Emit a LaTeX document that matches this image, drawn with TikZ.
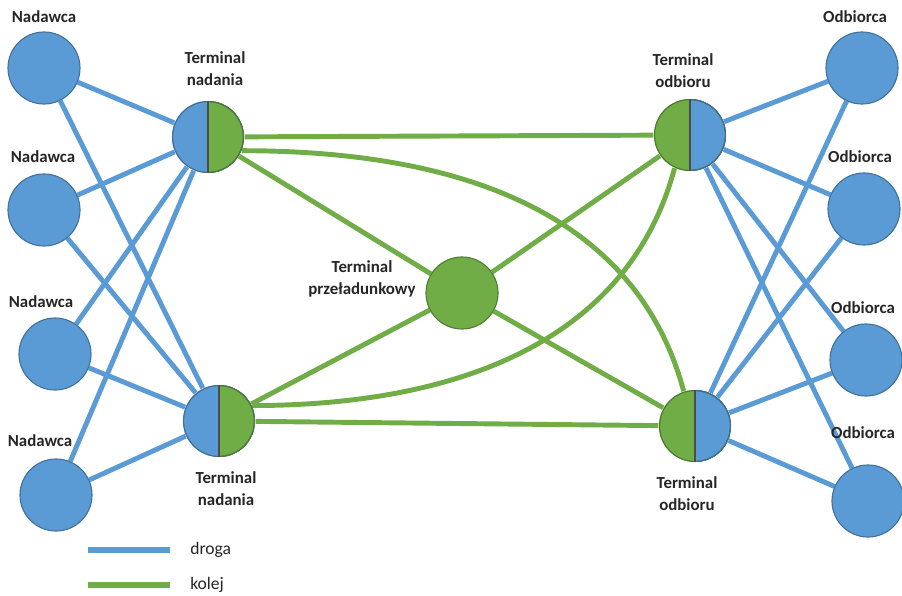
\documentclass[tikz,border=0pt]{standalone}
\usepackage{fontspec}
\setmainfont{Carlito}
\usepackage{tikz}
\usetikzlibrary{positioning,backgrounds}
\definecolor{road}{RGB}{91,155,213}
\definecolor{roaddark}{RGB}{65,113,156}
\definecolor{rail}{RGB}{112,173,71}
\definecolor{raildark}{RGB}{80,126,50}

\tikzset{
  hub/.style={circle, minimum size=1.8cm, inner sep=0pt, line width=0.8pt},
  sender/.style={hub, fill=road, draw=roaddark},
  transfer/.style={hub, fill=rail, draw=raildark},
  halfhub/.style 2 args={hub, fill=#1, path picture={
      \fill[#2] (path picture bounding box.south) rectangle (path picture bounding box.north east);
      \draw[#1!70!black, line width=1.6pt] (path picture bounding box.center) circle (0.9cm);
      \begin{scope}
        \clip (path picture bounding box.south) rectangle (path picture bounding box.north east);
        \draw[#2!70!black, line width=1.6pt] (path picture bounding box.center) circle (0.9cm);
      \end{scope}
      \draw[black!70, line width=0.8pt] (path picture bounding box.south) -- (path picture bounding box.north);}},
  lbl/.style={font=\bfseries\fontsize{12}{15.5}\selectfont, align=center, inner sep=0pt, text=black!85},
  leg/.style={font=\fontsize{12.5}{15}\selectfont, inner sep=0pt, text=black!85},
  droga/.style={road, line width=3.5pt},
  kolej/.style={rail, line width=3.5pt}
}

\begin{document}
\begin{tikzpicture}[x=0.025cm, y=0.025cm]
  \useasboundingbox (0,0) rectangle (902,595);

  % Senders
  \node[sender] (N1) at (44,527) {};
  \node[sender] (N2) at (44,385) {};
  \node[sender] (N3) at (55,241) {};
  \node[sender] (N4) at (56,100) {};
  \node[lbl] (N1t) at (44,578) {Nadawca};
  \node[lbl] (N2t) at (43,438) {Nadawca};
  \node[lbl] (N3t) at (41,293) {Nadawca};
  \node[lbl] (N4t) at (40,154) {Nadawca};

  % Terminals
  \node[halfhub={road}{rail}] (TN1) at (208,458) {};
  \node[halfhub={road}{rail}] (TN2) at (219,174) {};
  \node[transfer] (TP) at (462,302) {};
  \node[halfhub={rail}{road}] (TO1) at (690,460) {};
  \node[halfhub={rail}{road}] (TO2) at (695,169) {};
  \node[lbl] (TN1t) at (215,526) {Terminal\\nadania};
  \node[lbl] (TN2t) at (226,106) {Terminal\\nadania};
  \node[lbl] (TPt) at (362,316) {Terminal\\przeładunkowy};
  \node[lbl] (TO1t) at (683,524) {Terminal\\odbioru};
  \node[lbl] (TO2t) at (687,101) {Terminal\\odbioru};

  % Receivers
  \node[sender] (O1) at (862,527) {};
  \node[sender] (O2) at (864,386) {};
  \node[sender] (O3) at (866,235) {};
  \node[sender] (O4) at (868,94) {};
  \node[lbl] (O1t) at (855,578) {Odbiorca};
  \node[lbl] (O2t) at (860,438) {Odbiorca};
  \node[lbl] (O3t) at (863,287) {Odbiorca};
  \node[lbl] (O4t) at (863,162) {Odbiorca};

  \begin{scope}[on background layer]
    % Road links
    \foreach \s in {N1,N2,N3,N4}
      \draw[droga] (\s) -- (TN1) (\s) -- (TN2);
    \foreach \r in {O1,O2,O3,O4}
      \draw[droga] (TO1) -- (\r) (TO2) -- (\r);

    % Rail links
    \draw[kolej] (TN1) -- (TO1);
    \draw[kolej] (TN2) -- (TO2);
    \draw[kolej] (TN1) -- (TP) -- (TO2);
    \draw[kolej] (TN2) -- (TP) -- (TO1);
    \draw[kolej] (TN1.-22) to[out=0, in=105] (TO2.108);
    \draw[kolej] (TN2.25) to[out=0, in=-105] (TO1.-115);
  \end{scope}

  % Legend
  \coordinate (dL) at (88,45);
  \coordinate (dR) at (170,45);
  \coordinate (kL) at (88,10);
  \coordinate (kR) at (170,10);
  \draw[droga, line width=4.5pt] (dL) -- (dR);
  \draw[kolej, line width=4.5pt] (kL) -- (kR);
  \node[leg, right=0.5cm of dR] (dT) {droga};
  \node[leg, right=0.5cm of kR] (kT) {kolej};
\end{tikzpicture}
\end{document}
